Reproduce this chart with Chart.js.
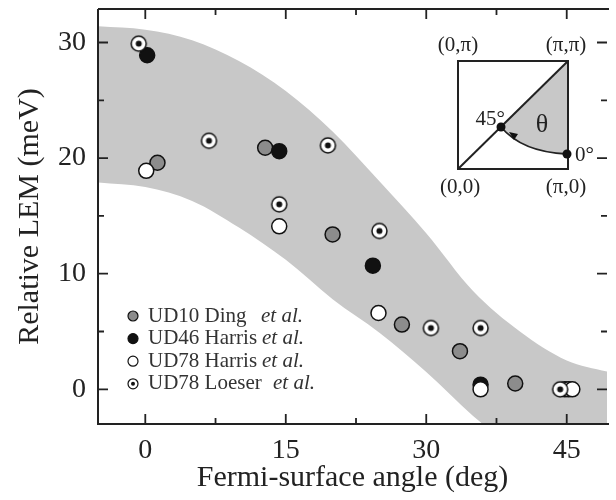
<!DOCTYPE html>
<html lang="en">
<head>
  <meta charset="UTF-8">
  <title>Relative LEM vs Fermi-surface angle</title>
  <script src="https://cdn.jsdelivr.net/npm/chart.js"></script>
  <style>
    html, body {
      margin: 0;
      padding: 0;
      background: #fff;
      overflow: hidden;
    }
    #wrap {
      width: 616px;
      height: 500px;
    }
  </style>
</head>
<body>
  <div id="wrap"><canvas id="lem" width="616" height="500"></canvas></div>

  <script>
    // ticks
    let xTicks = [0, 15, 30, 45];
    let xMinor = [7.5, 22.5, 37.5];
    let yTicks = [0, 10, 20, 30];
    let yMinor = [5, 15, 25];

    // grey band edges (deg, meV)
    let bandX     = [-5, 0, 5, 10, 15, 20, 25, 30, 35, 40, 45, 50];
    let bandUpper = [31.4, 31.1, 30.2, 28.4, 25.8, 22.3, 18.0, 13.5, 8.5, 5.0, 2.5, 1.4];
    let bandLower = [17.9, 17.5, 16.3, 14.0, 11.2, 7.8, 4.9, 1.5, -2.3, -5.5, -8.5, -11];

    // UD10 Ding et al.
    let dingX = [1.3, 12.8, 20.0, 27.4, 33.6, 39.5];
    let dingY = [19.6, 20.9, 13.4, 5.6, 3.3, 0.5];
    // UD46 Harris et al.
    let harris46X = [0.2, 14.3, 24.3, 35.8];
    let harris46Y = [28.9, 20.6, 10.7, 0.4];
    // UD78 Harris et al.
    let harris78X = [0.1, 14.3, 24.9, 35.8, 44.8, 45.2, 45.6];
    let harris78Y = [18.9, 14.1, 6.6, 0.0, 0.0, 0.0, 0.0];
    // UD78 Loeser et al.
    let loeserX = [-0.7, 6.8, 14.3, 19.5, 25.0, 30.5, 35.8, 44.3];
    let loeserY = [29.9, 21.5, 16.0, 21.1, 13.7, 5.3, 5.3, 0.0];

    function pts(xs, ys) {
      return xs.map((x, i) => ({ x: x, y: ys[i] }));
    }

    // circle with a dot in the middle
    function dottedMarker(r) {
      let c = document.createElement("canvas");
      let s = Math.ceil(r * 2 + 4);
      c.width = s;
      c.height = s;
      let g = c.getContext("2d");
      g.beginPath();
      g.arc(s / 2, s / 2, r, 0, Math.PI * 2);
      g.fillStyle = "#fff";
      g.fill();
      g.lineWidth = 1.5;
      g.strokeStyle = "#111";
      g.stroke();
      g.beginPath();
      g.arc(s / 2, s / 2, r * 0.4, 0, Math.PI * 2);
      g.fillStyle = "#111";
      g.fill();
      return c;
    }

    const INK = "#222";
    const BAND = "#c8c8c8";
    const serif = "'Liberation Serif', 'Times New Roman', serif";
    Chart.defaults.font.family = serif;
    Chart.defaults.color = INK;

    let legendRows = [
      { label: "UD10 Ding", fill: "#8c8c8c", gap: 261 },
      { label: "UD46 Harris", fill: "#111", gap: 262 },
      { label: "UD78 Harris", fill: "#fff", gap: 262 },
      { label: "UD78 Loeser", fill: "dot", gap: 273 }
    ];

    // inward ticks, frame, legend and the k-space inset
    const decor = {
      id: "decor",
      afterDatasetsDraw(chart) {
        let ctx = chart.ctx;
        let a = chart.chartArea;
        let xs = chart.scales.x, ys = chart.scales.y;
        ctx.save();
        ctx.strokeStyle = INK;
        ctx.lineWidth = 2;
        ctx.beginPath();
        ctx.moveTo(a.left, a.top);
        ctx.lineTo(a.right + 2, a.top);
        ctx.moveTo(a.left, a.top);
        ctx.lineTo(a.left, a.bottom);
        ctx.lineTo(a.right + 2, a.bottom);
        ctx.stroke();

        ctx.lineWidth = 1.8;
        ctx.beginPath();
        function xt(v, len) {
          let p = xs.getPixelForValue(v);
          ctx.moveTo(p, a.bottom); ctx.lineTo(p, a.bottom - len);
          ctx.moveTo(p, a.top); ctx.lineTo(p, a.top + len);
        }
        function yt(v, len) {
          let p = ys.getPixelForValue(v);
          ctx.moveTo(a.left, p); ctx.lineTo(a.left + len, p);
          ctx.moveTo(a.right, p); ctx.lineTo(a.right - len, p);
        }
        xTicks.forEach(v => xt(v, 10));
        xMinor.forEach(v => xt(v, 6));
        yTicks.forEach(v => yt(v, 10));
        yMinor.forEach(v => yt(v, 6));
        ctx.stroke();

        // legend
        let lx = 133, ly = 316;
        legendRows.forEach((row, i) => {
          let y = ly + i * 22.6;
          ctx.beginPath();
          ctx.arc(lx, y, 5, 0, Math.PI * 2);
          ctx.fillStyle = row.fill === "dot" ? "#fff" : row.fill;
          ctx.fill();
          ctx.lineWidth = 1.2;
          ctx.strokeStyle = "#111";
          ctx.stroke();
          if (row.fill === "dot") {
            ctx.beginPath();
            ctx.arc(lx, y, 2, 0, Math.PI * 2);
            ctx.fillStyle = "#111";
            ctx.fill();
          }
          ctx.fillStyle = "#333";
          ctx.textBaseline = "middle";
          ctx.textAlign = "left";
          ctx.font = "21px " + serif;
          ctx.fillText(row.label, lx + 15, y);
          ctx.font = "italic 21px " + serif;
          ctx.fillText("et al.", row.gap, y);
        });

        // inset: quarter of the Brillouin zone
        let L = 458, T = 61, R = 568, B = 169;
        let p45 = [501, 127], p0 = [567, 154];
        ctx.beginPath();
        ctx.moveTo(p45[0], p45[1]);
        ctx.lineTo(R, T);
        ctx.lineTo(R, p0[1]);
        ctx.quadraticCurveTo(522, 152, p45[0], p45[1]);
        ctx.closePath();
        ctx.fillStyle = BAND;
        ctx.fill();

        ctx.strokeStyle = INK;
        ctx.lineWidth = 2;
        ctx.strokeRect(L, T, R - L, B - T);
        ctx.beginPath();
        ctx.moveTo(L, B);
        ctx.lineTo(R, T);
        ctx.stroke();
        ctx.lineWidth = 1.8;
        ctx.beginPath();
        ctx.moveTo(p0[0], p0[1]);
        ctx.quadraticCurveTo(522, 152, p45[0], p45[1]);
        ctx.stroke();

        // arrow head on the arc
        ctx.beginPath();
        ctx.moveTo(509, 132);
        ctx.lineTo(518, 134);
        ctx.lineTo(514, 140);
        ctx.closePath();
        ctx.fillStyle = "#111";
        ctx.fill();

        [p45, p0].forEach(p => {
          ctx.beginPath();
          ctx.arc(p[0], p[1], 4.5, 0, Math.PI * 2);
          ctx.fill();
        });

        ctx.fillStyle = INK;
        ctx.font = "21px " + serif;
        ctx.textAlign = "center";
        ctx.textBaseline = "middle";
        ctx.fillText("(0,\u03c0)", 458, 45);
        ctx.fillText("(\u03c0,\u03c0)", 566, 45);
        ctx.fillText("(0,0)", 460, 187);
        ctx.fillText("(\u03c0,0)", 566, 187);
        ctx.textAlign = "right";
        ctx.fillText("45\u00b0", 505, 119);
        ctx.textAlign = "left";
        ctx.fillText("0\u00b0", 575, 155);
        ctx.font = "26px " + serif;
        ctx.textAlign = "center";
        ctx.fillText("\u03b8", 542, 125);
        ctx.restore();
      }
    };

    let markerBase = {
      pointRadius: 7.5,
      pointBorderWidth: 1.5,
      pointBorderColor: "#111",
      showLine: false
    };

    new Chart(document.getElementById("lem"), {
      type: "scatter",
      data: {
        datasets: [
          Object.assign({}, markerBase, {
            label: "UD78 Loeser et al.",
            data: pts(loeserX, loeserY),
            pointStyle: dottedMarker(7.5),
            order: 1
          }),
          Object.assign({}, markerBase, {
            label: "UD78 Harris et al.",
            data: pts(harris78X, harris78Y),
            pointBackgroundColor: "#fff",
            order: 2
          }),
          Object.assign({}, markerBase, {
            label: "UD46 Harris et al.",
            data: pts(harris46X, harris46Y),
            pointBackgroundColor: "#111",
            order: 3
          }),
          Object.assign({}, markerBase, {
            label: "UD10 Ding et al.",
            data: pts(dingX, dingY),
            pointBackgroundColor: "#8c8c8c",
            order: 4
          }),
          {
            label: "band upper",
            data: pts(bandX, bandUpper),
            showLine: true,
            pointRadius: 0,
            borderWidth: 0,
            borderColor: BAND,
            backgroundColor: BAND,
            cubicInterpolationMode: "monotone",
            fill: "+1",
            order: 10
          },
          {
            label: "band lower",
            data: pts(bandX, bandLower),
            showLine: true,
            pointRadius: 0,
            borderWidth: 0,
            borderColor: BAND,
            cubicInterpolationMode: "monotone",
            fill: false,
            order: 11
          }
        ]
      },
      options: {
        responsive: false,
        animation: false,
        events: [],
        layout: { padding: { top: 4, right: 0, left: 0, bottom: 0 } },
        plugins: {
          legend: { display: false },
          tooltip: { enabled: false }
        },
        scales: {
          x: {
            type: "linear",
            min: -5.05,
            max: 49.3,
            afterBuildTicks: s => { s.ticks = xTicks.map(v => ({ value: v })); },
            afterFit: s => { s.height = 76; s.paddingLeft = 0; s.paddingRight = 0; },
            grid: { display: false, drawTicks: false },
            border: { display: false },
            ticks: { font: { size: 28 }, padding: 10, color: INK, maxRotation: 0 },
            title: {
              display: true,
              text: "Fermi-surface angle (deg)",
              font: { size: 30 },
              color: INK,
              padding: { top: 0, bottom: 4 }
            }
          },
          y: {
            type: "linear",
            min: -3,
            max: 32.9,
            afterBuildTicks: s => { s.ticks = yTicks.map(v => ({ value: v })); },
            afterFit: s => { s.width = 98; s.paddingTop = 0; s.paddingBottom = 0; },
            grid: { display: false, drawTicks: false },
            border: { display: false },
            ticks: { font: { size: 28 }, padding: 12, color: INK },
            title: {
              display: true,
              text: "Relative LEM (meV)",
              font: { size: 30 },
              color: INK,
              padding: { top: 12, bottom: 0 }
            }
          }
        }
      },
      plugins: [decor]
    });
  </script>
</body>
</html>
